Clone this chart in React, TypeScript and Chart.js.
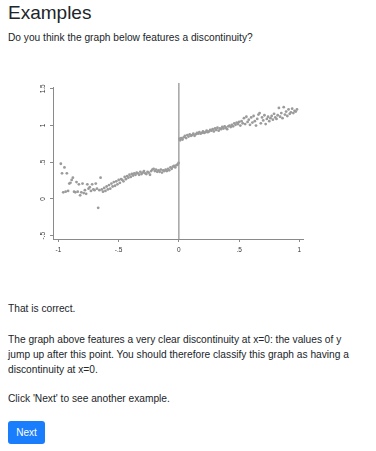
import React, { useEffect, useRef } from "react";
import { Chart, registerables } from "chart.js";

Chart.register(...registerables);

const leftX = [
  -0.98, -0.97, -0.96, -0.95, -0.94, -0.93, -0.92, -0.91, -0.9, -0.89, -0.88, -0.87, -0.86, -0.85, -0.84, -0.83,
  -0.82, -0.81, -0.8, -0.79, -0.78, -0.77, -0.76, -0.75, -0.74, -0.73, -0.72, -0.71, -0.7, -0.69, -0.68, -0.67,
  -0.66, -0.65, -0.64, -0.63, -0.62, -0.61, -0.6, -0.59, -0.58, -0.57, -0.56, -0.55, -0.54, -0.53, -0.52, -0.51,
  -0.5, -0.49, -0.48, -0.47, -0.46, -0.45, -0.44, -0.43, -0.42, -0.41, -0.4, -0.39, -0.38, -0.37, -0.36, -0.35,
  -0.34, -0.33, -0.32, -0.31, -0.3, -0.29, -0.28, -0.27, -0.26, -0.25, -0.24, -0.23, -0.22, -0.21, -0.2, -0.19,
  -0.18, -0.17, -0.16, -0.15, -0.14, -0.13, -0.12, -0.11, -0.1, -0.09, -0.08, -0.07, -0.06, -0.05, -0.04, -0.03,
  -0.02, -0.01, -0.003,
];
const leftY = [
  0.48, 0.35, 0.09, 0.43, 0.1, 0.35, 0.11, 0.21, 0.22, 0.26, 0.29, 0.1, 0.09, 0.23, 0.1, 0.2,
  0.05, 0.09, 0.21, 0.08, 0.12, 0.07, 0.2, 0.14, 0.16, 0.11, 0.2, 0.13, 0.12, 0.21, 0.14, -0.12,
  0.12, 0.29, 0.13, 0.1, 0.15, 0.11, 0.17, 0.13, 0.19, 0.14, 0.21, 0.17, 0.23, 0.18, 0.24, 0.2,
  0.26, 0.22, 0.27, 0.26, 0.24, 0.3, 0.27, 0.31, 0.29, 0.33, 0.3, 0.34, 0.32, 0.35, 0.33, 0.36,
  0.35, 0.33, 0.37, 0.34, 0.36, 0.38, 0.35, 0.34, 0.37, 0.36, 0.33, 0.38, 0.4, 0.41, 0.38, 0.4,
  0.37, 0.39, 0.37, 0.4, 0.36, 0.39, 0.38, 0.4, 0.38, 0.41, 0.39, 0.43, 0.41, 0.44, 0.45, 0.43,
  0.46, 0.47, 0.49,
];
const rightX = [
  0.005, 0.01, 0.02, 0.03, 0.04, 0.05, 0.06, 0.07, 0.08, 0.09, 0.1, 0.11, 0.12, 0.13, 0.14, 0.15,
  0.16, 0.17, 0.18, 0.19, 0.2, 0.21, 0.22, 0.23, 0.24, 0.25, 0.26, 0.27, 0.28, 0.29, 0.3, 0.31,
  0.32, 0.33, 0.34, 0.35, 0.36, 0.37, 0.38, 0.39, 0.4, 0.41, 0.42, 0.43, 0.44, 0.45, 0.46, 0.47,
  0.48, 0.49, 0.5, 0.51, 0.52, 0.53, 0.54, 0.55, 0.56, 0.57, 0.58, 0.59, 0.6, 0.61, 0.62, 0.63,
  0.64, 0.65, 0.66, 0.67, 0.68, 0.69, 0.7, 0.71, 0.72, 0.73, 0.74, 0.75, 0.76, 0.77, 0.78, 0.79,
  0.8, 0.81, 0.82, 0.83, 0.84, 0.85, 0.86, 0.87, 0.88, 0.89, 0.9, 0.91, 0.92, 0.93, 0.94, 0.95,
  0.96, 0.97, 0.98,
];
const rightY = [
  0.82, 0.8, 0.83, 0.81, 0.84, 0.86, 0.83, 0.87, 0.85, 0.88, 0.86, 0.87, 0.89, 0.86, 0.88, 0.9,
  0.89, 0.91, 0.89, 0.9, 0.92, 0.9, 0.91, 0.93, 0.91, 0.92, 0.94, 0.93, 0.95, 0.92, 0.96, 0.94,
  0.97, 0.93, 0.96, 0.95, 0.98, 0.96, 0.99, 0.97, 0.95, 0.99, 1.0, 0.98, 1.01, 0.99, 1.03, 1.01,
  1.04, 1.02, 1.05, 1.0, 1.06, 1.03, 1.1, 1.02, 1.12, 1.05, 1.08, 1.01, 1.11, 1.04, 1.13, 1.06,
  1.0, 1.09, 1.15, 1.17, 1.03, 1.11, 1.07, 1.14, 1.02, 1.09, 1.12, 1.06, 1.1, 1.13, 1.08, 1.16,
  1.11, 1.09, 1.14, 1.24, 1.12, 1.17, 1.1, 1.25, 1.15, 1.19, 1.13, 1.22, 1.16, 1.18, 1.23, 1.17,
  1.2, 1.19, 1.22,
];

const xTicks = [-1, -0.5, 0, 0.5, 1];
const xTickLabels = ["-1", "-.5", "0", ".5", "1"];
const yTicks = [-0.5, 0, 0.5, 1, 1.5];
const yTickLabels = ["-.5", "0", ".5", "1", "1.5"];
const cutoffLineY = [-0.545, 1.58];

const tickLabelPlugin = {
  id: "stataTickLabels",
  afterDraw(chart: any) {
    const ctx = chart.ctx;
    const xs = chart.scales.x;
    const ys = chart.scales.y;
    const area = chart.chartArea;
    ctx.save();
    ctx.fillStyle = "#333";
    ctx.font = "6.5px 'Liberation Sans', Arial, sans-serif";
    ctx.textAlign = "center";
    ctx.textBaseline = "middle";
    xTicks.forEach((v, i) => {
      ctx.fillText(xTickLabels[i], xs.getPixelForValue(v), area.bottom + 11);
    });
    yTicks.forEach((v, i) => {
      const py = ys.getPixelForValue(v);
      ctx.save();
      ctx.translate(area.left - 10, py);
      ctx.rotate(-Math.PI / 2);
      ctx.fillText(yTickLabels[i], 0, 0);
      ctx.restore();
    });
    ctx.restore();
  },
};

function ScatterChart() {
  const ref = useRef<HTMLCanvasElement>(null);
  useEffect(() => {
    if (!ref.current) return;
    const toPts = (xs: number[], ys: number[]) => xs.map((x, i) => ({ x, y: ys[i] }));
    const chart = new Chart(ref.current, {
      type: "scatter",
      data: {
        datasets: [
          {
            data: toPts(leftX, leftY),
            pointRadius: 1.4,
            pointBackgroundColor: "#9b9b9b",
            pointBorderWidth: 0,
          },
          {
            data: toPts(rightX, rightY),
            pointRadius: 1.4,
            pointBackgroundColor: "#9b9b9b",
            pointBorderWidth: 0,
          },
          {
            type: "line",
            data: cutoffLineY.map((y) => ({ x: 0, y })),
            borderColor: "#777",
            borderWidth: 1,
            pointRadius: 0,
            clip: false as any,
          } as any,
        ],
      },
      options: {
        animation: false,
        responsive: false,
        events: [],
        layout: { padding: { top: 27, right: 25, left: 0, bottom: 0 } },
        plugins: { legend: { display: false }, tooltip: { enabled: false } },
        scales: {
          x: {
            type: "linear",
            min: -1.045,
            max: 1.03,
            afterBuildTicks: (s: any) => {
              s.ticks = xTicks.map((value) => ({ value }));
            },
            afterFit: (s: any) => {
              s.height = 31;
            },
            ticks: { display: false },
            grid: { drawOnChartArea: false, tickLength: 3, color: "#8a8a8a", lineWidth: 1 },
            border: { display: true, color: "#8a8a8a", width: 1 },
          },
          y: {
            type: "linear",
            min: -0.545,
            max: 1.525,
            afterBuildTicks: (s: any) => {
              s.ticks = yTicks.map((value) => ({ value }));
            },
            afterFit: (s: any) => {
              s.width = 45;
            },
            ticks: { display: false },
            grid: { drawOnChartArea: false, tickLength: 3, color: "#8a8a8a", lineWidth: 1 },
            border: { display: true, color: "#8a8a8a", width: 1 },
          },
        },
      },
      plugins: [tickLabelPlugin],
    });
    return () => chart.destroy();
  }, []);
  return <canvas ref={ref} width={320} height={210} style={{ position: "absolute", left: 8, top: 60 }} />;
}

const font = "'Liberation Sans', Arial, Helvetica, sans-serif";

function Line({ top, children, size = 10.2 }: { top: number; children: React.ReactNode; size?: number }) {
  return (
    <div
      style={{
        position: "absolute",
        left: 8,
        top,
        fontSize: size,
        lineHeight: "15px",
        whiteSpace: "nowrap",
        color: "#212529",
        fontFamily: font,
      }}
    >
      {children}
    </div>
  );
}

export default function App() {
  return (
    <div style={{ position: "absolute", left: 0, top: 0, width: 376, height: 451, fontFamily: font }}>
      <div
        style={{
          position: "absolute",
          left: 8,
          top: 1,
          fontSize: 19,
          lineHeight: "24px",
          color: "#212529",
          fontFamily: font,
        }}
      >
        Examples
      </div>
      <Line top={30}>Do you think the graph below features a discontinuity?</Line>
      <ScatterChart />
      <Line top={301}>That is correct.</Line>
      <Line top={332}>The graph above features a very clear discontinuity at x=0: the values of y</Line>
      <Line top={347}>jump up after this point. You should therefore classify this graph as having a</Line>
      <Line top={362}>discontinuity at x=0.</Line>
      <Line top={391}>Click 'Next' to see another example.</Line>
      <div
        style={{
          position: "absolute",
          left: 8,
          top: 421,
          width: 37,
          height: 23,
          background: "#1a7dfb",
          borderRadius: 3,
          color: "#fff",
          fontSize: 10,
          lineHeight: "23px",
          textAlign: "center",
          fontFamily: font,
        }}
      >
        Next
      </div>
    </div>
  );
}
